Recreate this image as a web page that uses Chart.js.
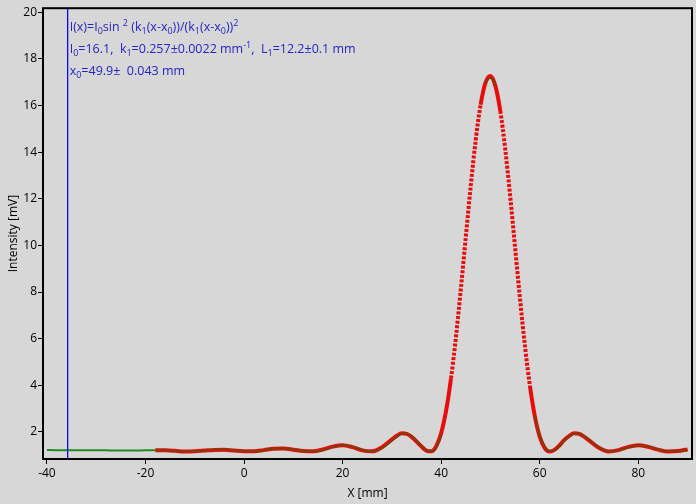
<!DOCTYPE html>
<html>
<head>
<meta charset="utf-8">
<script src="https://cdn.jsdelivr.net/npm/chart.js@4.4.1/dist/chart.umd.min.js"></script>
<style>
    html, body { margin: 0; padding: 0; background: #d7d7d7; }
    #wrap { width: 696px; height: 504px; }
</style>
</head>
<body>
<div id="wrap"><canvas id="myChart" width="696" height="504"></canvas></div>
<script>
// -------------------------------------------------------------------------- Data

// measured intensity, x in mm
const dataX = [-40, -38, -36, -34, -32, -30, -28, -26, -24, -22, -20, -18, -16, -14, -12, -10, -8, -6, -4, -2,
    0, 2, 4, 6, 8, 10, 12, 14, 16, 18, 20, 22, 24, 26, 28, 30, 31, 32, 33, 34, 36, 37, 38, 39,
    40, 41, 42, 43, 44, 45, 46, 47, 48, 49, 50, 51, 52, 53, 54, 55, 56, 57, 58, 59,
    60, 61, 62, 63, 64, 65, 66, 67, 68, 69, 70, 72, 74, 76, 78, 80, 82, 84, 86, 88, 90]
const dataY = [1.23, 1.22, 1.22, 1.21, 1.21, 1.22, 1.21, 1.20, 1.20, 1.20, 1.21, 1.21, 1.22, 1.18, 1.17, 1.16, 1.19, 1.25, 1.25, 1.22,
    1.18, 1.16, 1.21, 1.29, 1.30, 1.26, 1.19, 1.16, 1.23, 1.35, 1.43, 1.37, 1.23, 1.17, 1.31, 1.63, 1.80, 1.92, 1.93, 1.82, 1.42, 1.22, 1.17, 1.35,
    1.90, 2.85, 4.25, 6.00, 8.10, 10.30, 12.50, 14.45, 16.00, 16.95, 17.18, 16.85, 15.80, 14.20, 12.20, 10.00, 7.80, 5.75, 4.05, 2.72,
    1.83, 1.35, 1.17, 1.22, 1.39, 1.63, 1.81, 1.93, 1.93, 1.82, 1.67, 1.35, 1.17, 1.21, 1.34, 1.42, 1.37, 1.26, 1.17, 1.17, 1.23]

// fitted curve I(x) = I0 sin^2(k1(x-x0)) / (k1(x-x0))^2
const fitX = [-18, -16, -14, -12, -10, -8, -6, -4, -2,
    0, 2, 4, 6, 8, 10, 12, 14, 16, 18, 20, 22, 24, 26, 28, 30, 31, 32, 33, 34, 36, 37, 38, 39,
    40, 41, 42, 43, 44, 45, 46, 47, 48, 49, 50, 51, 52, 53, 54, 55, 56, 57, 58, 59,
    60, 61, 62, 63, 64, 65, 66, 67, 68, 69, 70, 72, 74, 76, 78, 80, 82, 84, 86, 88, 90]
const fitY = [1.21, 1.21, 1.19, 1.16, 1.17, 1.20, 1.23, 1.24, 1.20,
    1.17, 1.17, 1.22, 1.28, 1.29, 1.24, 1.18, 1.17, 1.25, 1.37, 1.43, 1.35, 1.21, 1.17, 1.35, 1.68, 1.84, 1.94, 1.92, 1.79, 1.38, 1.20, 1.17, 1.39,
    1.95, 2.91, 4.30, 6.07, 8.15, 10.36, 12.55, 14.50, 16.03, 16.98, 17.26, 16.84, 15.76, 14.13, 12.12, 9.91, 7.71, 5.69, 3.99, 2.68,
    1.80, 1.32, 1.16, 1.23, 1.42, 1.66, 1.83, 1.94, 1.92, 1.80, 1.64, 1.32, 1.16, 1.22, 1.36, 1.43, 1.36, 1.24, 1.16, 1.18, 1.25]

const xTicks = [-40, -20, 0, 20, 40, 60, 80]
const yTicks = [2, 4, 6, 8, 10, 12, 14, 16, 18, 20]
const cursorX = -36

// -------------------------------------------------------------------------- Colours

let black = '#000000'
let blue = '#2424c8'
let cursorBlue = '#0a0aff'
let red = 'rgb(232, 12, 12)'
let green = '#218a21'
let brown = 'rgb(128, 62, 12)'

Chart.defaults.font.family = "'Open Sans', 'Noto Sans', sans-serif"
Chart.defaults.font.size = 12
Chart.defaults.color = black

const slope = c => Math.abs((c.p1.parsed.y - c.p0.parsed.y) / (c.p1.parsed.x - c.p0.parsed.x))

// -------------------------------------------------------------------------- Frame, cursor and fit text

function drawRich(ctx, x, y, parts) {
    parts.forEach(p => {
        let size = 12.5
        let dy = 0
        if (p[1] === 'sub') { size = 9; dy = 3 }
        if (p[1] === 'sup') { size = 9; dy = -5 }
        ctx.font = size + "px 'Open Sans'"
        ctx.fillText(p[0], x, y + dy)
        x += ctx.measureText(p[0]).width
    })
}

const framePlugin = {
    id: 'frame',
    afterDatasetsDraw(chart) {
        const ctx = chart.ctx
        const a = chart.chartArea
        const px = chart.scales.x.getPixelForValue(cursorX)
        ctx.save()
        ctx.fillStyle = cursorBlue
        ctx.fillRect(Math.round(px), a.top, 1.3, a.bottom - a.top)

        ctx.strokeStyle = black
        ctx.lineWidth = 2
        ctx.strokeRect(a.left, a.top, a.right - a.left, a.bottom - a.top)

        ctx.fillStyle = blue
        ctx.textBaseline = 'alphabetic'
        const tx = px + 3
        drawRich(ctx, tx, 31, [['I(x)=I'], ['0', 'sub'], ['sin '], ['2', 'sup'], [' (k'], ['1', 'sub'], ['(x-x'], ['0', 'sub'],
            ['))/(k'], ['1', 'sub'], ['(x-x'], ['0', 'sub'], ['))'], ['2', 'sup']])
        drawRich(ctx, tx, 53, [['I'], ['0', 'sub'], ['=16.1,  k'], ['1', 'sub'], ['=0.257\u00b10.0022 mm'], ['-1', 'sup'],
            [',  L'], ['1', 'sub'], ['=12.2\u00b10.1 mm']])
        drawRich(ctx, tx, 75, [['x'], ['0', 'sub'], ['=49.9\u00b1  0.043 mm']])
        ctx.restore()
    }
}

// -------------------------------------------------------------------------- Chart config

const config = {
    type: 'line',
    data: {
        datasets: [{
            label: 'Messung',
            data: dataX.map((x, i) => ({ x: x, y: dataY[i] })),
            borderColor: brown,
            borderWidth: 2,
            pointRadius: 0,
            cubicInterpolationMode: 'monotone',
            order: 0,
            segment: {
                borderColor: c => c.p0.parsed.x < -18 ? green : (slope(c) > 0.9 ? 'rgba(0,0,0,0)' : brown)
            }
        }, {
            label: 'Fit',
            data: fitX.map((x, i) => ({ x: x, y: fitY[i] })),
            borderColor: red,
            borderWidth: 4,
            pointRadius: 0,
            cubicInterpolationMode: 'monotone',
            order: 1,
            segment: {
                borderDash: c => slope(c) > 1.45 ? [3, 1.6] : undefined
            }
        }]
    },
    options: {
        responsive: false,
        animation: false,
        devicePixelRatio: 1,
        layout: { padding: { top: 8, right: 4, left: 0, bottom: 0 } },
        plugins: {
            legend: { display: false },
            tooltip: { enabled: false }
        },
        scales: {
            x: {
                type: 'linear',
                min: -40.8,
                max: 90.9,
                afterBuildTicks: s => { s.ticks = xTicks.map(v => ({ value: v })) },
                afterFit: s => { s.height = 45 },
                ticks: { padding: 2, color: black },
                grid: { drawOnChartArea: false, drawTicks: true, tickLength: 5, color: black },
                border: { display: false },
                title: { display: true, text: 'X [mm]', color: black, padding: { top: 0, bottom: 3 } }
            },
            y: {
                type: 'linear',
                min: 0.84,
                max: 20.17,
                afterBuildTicks: s => { s.ticks = yTicks.map(v => ({ value: v })) },
                afterFit: s => { s.width = 43 },
                ticks: { padding: 1, color: black },
                grid: { drawOnChartArea: false, drawTicks: true, tickLength: 5, color: black },
                border: { display: false },
                title: { display: true, text: 'Intensity [mV]', color: black, padding: { top: 6, bottom: 2 } }
            }
        }
    },
    plugins: [framePlugin]
}

let myChart = new Chart(document.getElementById('myChart'), config)
</script>
</body>
</html>
